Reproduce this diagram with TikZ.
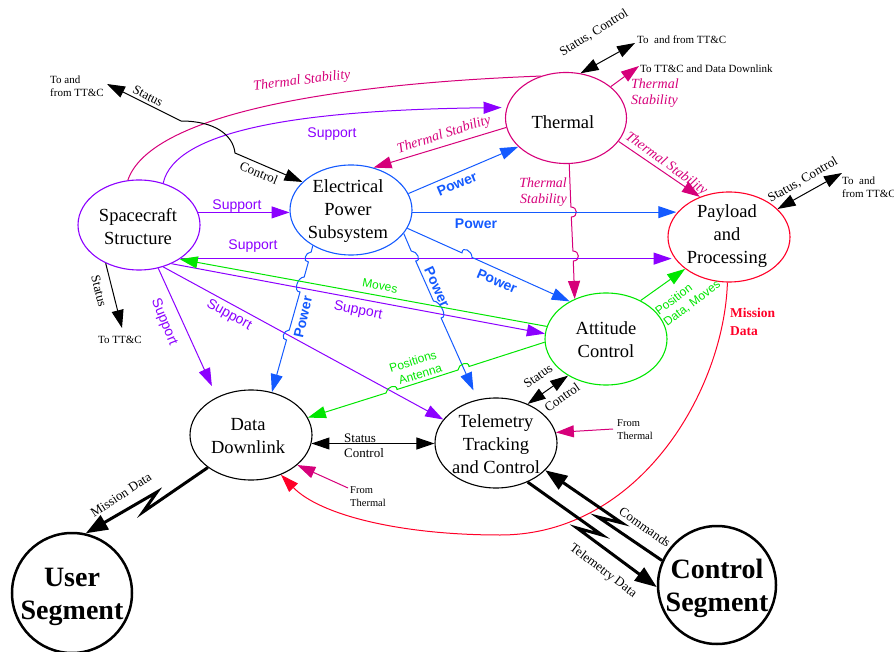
\documentclass[tikz,border=0pt]{standalone}
\usepackage{fontspec}
\setmainfont{Liberation Serif}
\setsansfont{Liberation Sans}
\usetikzlibrary{shapes.geometric,arrows.meta,calc}

\definecolor{suppc}{RGB}{140,0,255}
\definecolor{thermc}{RGB}{214,0,122}
\definecolor{powc}{RGB}{20,90,255}
\definecolor{grnc}{RGB}{0,230,0}
\definecolor{missc}{RGB}{255,0,40}

\tikzset{
  oval/.style={ellipse, draw, line width=1.1pt, minimum width=122pt, minimum height=90pt, inner sep=0pt},
  seg/.style={circle, draw, line width=2.5pt, minimum size=120pt, inner sep=0pt},
  lbl/.style={font=\fontsize{18.5}{23}\selectfont, align=center, inner sep=0pt},
  seglbl/.style={font=\bfseries\fontsize{28}{33}\selectfont, align=center, inner sep=0pt},
  conn/.style={line width=1pt},
  bolt/.style={line width=3pt, >={Triangle[length=22pt,width=16pt]}},
  supl/.style={conn, draw=suppc},
  thl/.style={conn, draw=thermc},
  pwl/.style={conn, draw=powc},
  grl/.style={conn, draw=grnc},
  sup/.style={font=\sffamily\fontsize{14}{16}\selectfont, text=suppc, inner sep=0pt},
  pw/.style={font=\sffamily\bfseries\fontsize{14}{16}\selectfont, text=powc, inner sep=0pt},
  ts/.style={font=\itshape\fontsize{14}{16}\selectfont, text=thermc, inner sep=0pt},
  gl/.style={font=\sffamily\fontsize{12}{14}\selectfont, text=grnc, align=left, inner sep=0pt},
  sm/.style={font=\fontsize{13}{15}\selectfont, inner sep=0pt},
  note/.style={font=\fontsize{11}{13}\selectfont, align=left, inner sep=0pt},
}

\begin{document}
\begin{tikzpicture}[x=1pt, y=-1pt, >={Triangle[length=18pt,width=12pt]}]
\useasboundingbox (0,0) rectangle (894,652);

% ---------- subsystems ----------
\node[oval, draw=suppc] (ss) at (139,225) {};
\node[lbl] (ss-t) at (138,227) {Spacecraft\\Structure};
\node[oval, draw=powc] (ep) at (351,210) {};
\node[lbl] (ep-t) at (348,211) {Electrical\\Power\\Subsystem};
\node[oval, draw=thermc, minimum width=121pt, minimum height=91pt] (th) at (566,118) {};
\node[lbl] (th-t) at (563,122) {Thermal};
\node[oval, draw=missc] (pp) at (729,237) {};
\node[lbl] (pp-t) at (727,236) {Payload\\and\\Processing};
\node[oval, draw=grnc, minimum height=92pt] (ac) at (606,339) {};
\node[lbl] (ac-t) at (606,340) {Attitude\\Control};
\node[oval] (dd) at (251,435) {};
\node[lbl] (dd-t) at (248,436) {Data\\Downlink};
\node[oval] (tt) at (496,443) {};
\node[lbl] (tt-t) at (496,444) {Telemetry\\Tracking\\and Control};
\node[seg] (us) at (72,593) {};
\node[seglbl] (us-t) at (72,597) {User\\Segment};
\node[seg, minimum size=118pt] (cs) at (717,585) {};
\node[seglbl] (cs-t) at (717,588) {Control\\Segment};

% ---------- free ends ----------
\coordinate (ttcA) at (107,84);
\coordinate (ttcB) at (635,43);
\coordinate (ttcC) at (639,66);
\coordinate (ttcD) at (842,173);
\coordinate (ttcE) at (122,328);
\coordinate (frA) at (613,429);
\coordinate (frB) at (348,488);

% ---------- thermal stability ----------
\draw[thl] (ss.104) .. controls (150,115) and (330,84) .. (th.121);
\draw[thl,->] (th.189) -- (ep.62);
\draw[thl,->] (th.35) -- (ttcC);
\draw[thl,->] (th.-24) -- (pp.126);
\draw[thl,->] (th.-86) -- (570.9,207) .. controls +(7,0) and +(7,0) .. (571.3,217)
   -- (572.9,251) .. controls +(7,0) and +(7,0) .. (573.3,261) -- (ac.128);
\draw[thl,->] (frA) -- (tt.10);
\draw[thl,->] (frB) -- (dd.-33);

% ---------- support ----------
\draw[supl,->,shorten >=5pt] (ss.60) .. controls (175,130) and (300,110) .. (th.170);
\draw[supl,->] (ss.12) -- (ss.12 -| ep.182);
\draw[supl,->] (ss.-39) -- (ss.-39 -| pp.196);
\draw[supl,->] (ss.-50) -- (ac.175);
\draw[supl,->] (ss.-60) -- (tt.156);
\draw[supl,->,shorten >=12pt] (ss.-66) -- (dd.132);

% ---------- power ----------
\draw[pwl,->] (ep.16) -- (th.211);
\draw[pwl,->] (ep.-2) -- (ep.-2 -| pp.156);
\draw[pwl,->] (ep.-18) -- (462,252.9) .. controls +(0,-7) and +(0,-7) .. (472,257.4) -- (ac.134);
\draw[pwl,->,shorten >=10pt] (ep.-24) -- (411.2,251) .. controls +(6,0) and +(6,0) .. (415.7,261)
   -- (433.5,301) .. controls +(7,0) and +(7,0) .. (441.1,318) -- (tt.113);
\draw[pwl,->] (ep.223) -- (311.2,252) .. controls +(-6,0) and +(-6,0) .. (308.4,262)
   -- (304.2,277) .. controls +(-7,0) and +(-7,0) .. (300,292)
   -- (289.3,330) .. controls +(-6,0) and +(-6,0) .. (286.5,340) -- (dd.64);

% ---------- attitude control ----------
\draw[grl,->] (ac.168) -- (ss.-40);
\draw[grl,->] (ac.183) -- (469,366.5) .. controls +(0,-6) and +(0,-6) .. (458,370)
   -- (397,389.5) .. controls +(0,-6) and +(0,-6) .. (386,393) -- (dd.17);
\draw[grl,->] (ac.48) -- (pp.216);

% ---------- mission data ----------
\draw[conn, draw=missc, ->] (pp.-92) .. controls (724,390) and (640,535) .. (500,535)
   .. controls (400,535) and (320,515) .. (dd.-53);

% ---------- status and control ----------
\draw[conn, <->] (ttcA) -- (181,121) .. controls (215,121) and (233,135) .. (235,153) -- (ep.150);
\draw[conn, <->] (th.72) -- (ttcB);
\draw[conn, <->] (pp.30) -- (ttcD);
\draw[conn, ->] (ss.229) -- (ttcE);
\draw[conn, <->] (ac.224) -- (tt.51);
\draw[conn, <->] (dd.-8) -- (dd.-8 -| tt.west);

% ---------- radio links ----------
\draw[bolt, ->] (dd.217) -- (143,512) -- (157,492) -- (us.77);
\draw[bolt, ->] (tt.-51) -- (602,535) -- (577,528) -- (cs.182);
\draw[bolt, ->] (cs.156) -- (598,517) -- (622,523) -- (tt.-29);

% ---------- labels ----------
\node[sm, rotate=-27] (l1) at (148,96) {Status};
\node[sm, rotate=-22] (l2) at (259,173) {Control};
\node[note, anchor=west] (l3) at (50,86) {To and\\from TT\&C};
\node[ts, rotate=7] (l4) at (302,81) {Thermal Stability};
\node[sup] (l5) at (332,134) {Support};
\node[ts, rotate=18] (l6) at (444,135) {Thermal Stability};
\node[pw, rotate=23] (l7) at (457,184) {Power};
\node[sm, rotate=32] (l8) at (594,33) {Status, Control};
\node[note, anchor=west] (l9) at (637,40) {To\ \ and from TT\&C};
\node[note, anchor=west] (l10) at (640,69) {To TT\&C and Data Downlink};
\node[ts, align=left, anchor=west] (l11) at (631,93) {Thermal\\Stability};
\node[ts, rotate=-36] (l12) at (666,164) {Thermal Stability};
\node[ts, align=right, anchor=east] (l13) at (567,192) {Thermal\\Stability};
\node[pw] (l14) at (476,224) {Power};
\node[pw, rotate=-23] (l15) at (497,281) {Power};
\node[pw, rotate=-65] (l16) at (437,287) {Power};
\node[pw, rotate=77] (l17) at (303,317) {Power};
\node[sup] (l18) at (237,206) {Support};
\node[sup] (l19) at (253,246) {Support};
\node[gl, rotate=-10] (l20) at (380,286) {Moves};
\node[sup, rotate=-11] (l21) at (358,311) {Support};
\node[sup, rotate=-29] (l22) at (229,315) {Support};
\node[sup, rotate=-68] (l23) at (164,322) {Support};
\node[gl, align=center, rotate=17] (l24) at (415,368) {Positions\\\ \ Antenna};
\node[gl, rotate=37] (l25) at (688,298) {Position\\Data, Moves};
\node[sm, rotate=35] (l26) at (538,376) {Status};
\node[sm, rotate=35] (l27) at (562,397) {Control};
\node[note, font=\fontsize{10.5}{13}\selectfont, anchor=west] (l28) at (617,430) {From\\Thermal};
\node[note, font=\fontsize{10.5}{13}\selectfont, anchor=west] (l29) at (350,497) {From\\Thermal};
\node[sm, align=left, anchor=west] (l30) at (344,446) {Status\\Control};
\node[font=\bfseries\fontsize{13.5}{18}\selectfont, text=missc, align=left, anchor=west, inner sep=0pt] (l31) at (730,322) {Mission\\Data};
\node[sm, rotate=33] (l32) at (121,495) {Mission Data};
\node[sm, rotate=-37] (l33) at (603,571) {Telemetry Data};
\node[sm, rotate=-35] (l34) at (645,527) {Commands};
\node[sm, rotate=30] (l35) at (803,180) {Status, Control};
\node[note, anchor=west] (l36) at (842,187) {To\ \ and\\from TT\&C};
\node[sm, rotate=-76] (l37) at (99,291) {Status};
\node[note] (l38) at (120,340) {To TT\&C};
\end{tikzpicture}
\end{document}
